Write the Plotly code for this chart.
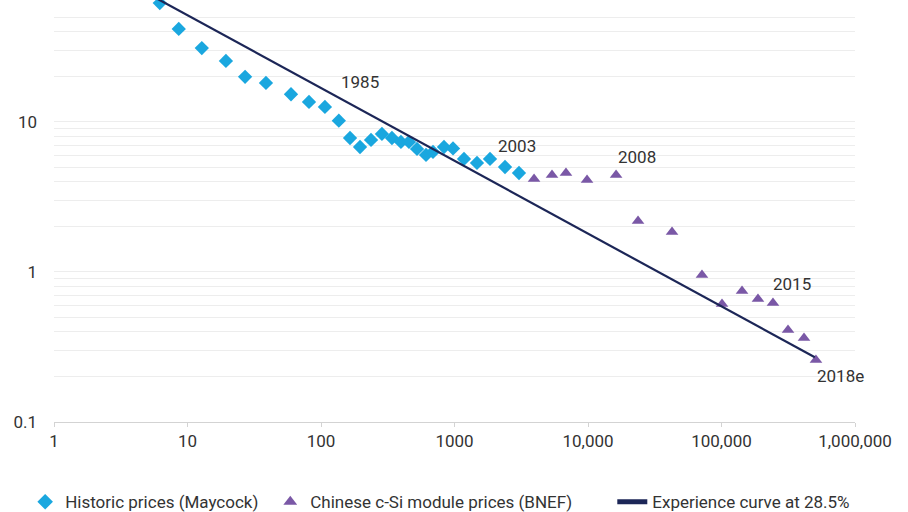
import math
import plotly.graph_objects as go

# Historic prices (Maycock): cumulative capacity (MW) vs module price
hist_x = [6.2, 8.6, 12.8, 19.4, 27.0, 38.7, 59.6, 81.3, 107, 136, 165, 196, 237, 286,
          340, 397, 456, 524, 612, 690, 834, 975, 1178, 1474, 1845, 2390, 3041]
hist_y = [62, 41.7, 31.1, 25.5, 20.0, 18.2, 15.3, 13.6, 12.6, 10.2, 7.82, 6.81, 7.59, 8.32,
          7.82, 7.36, 7.36, 6.61, 6.03, 6.31, 6.81, 6.66, 5.67, 5.33, 5.67, 5.01, 4.57]

# Chinese c-Si module prices (BNEF)
bnef_x = [3944, 5375, 6840, 9836, 16230, 23700, 42600, 71400, 100900, 142500,
          187600, 243000, 315000, 415000, 510000]
bnef_y = [4.17, 4.43, 4.57, 4.11, 4.43, 2.19, 1.85, 0.955, 0.612, 0.747,
          0.661, 0.621, 0.411, 0.363, 0.259]

# Experience curve at 28.5%
exp_x = [5, 500000]
exp_y = [72, 0.27]

x_tickvals = [1, 10, 100, 1000, 10000, 100000, 1000000]
x_ticktext = ["1", "10", "100", "1000", "10,000", "100,000", "1,000,000"]

y_gridvals = [0.1, 0.2, 0.3, 0.4, 0.5, 0.6, 0.7, 0.8, 0.9, 1, 2, 3, 4, 5, 6, 7, 8, 9,
              10, 20, 30, 40, 50]
y_labels = {0.1: "0.1", 1: "1", 10: "10"}

# year labels: (text, x, y) in data units
year_labels = [("1985", 196, 18.5), ("2003", 2938, 6.92), ("2008", 23300, 5.84),
               ("2015", 337000, 0.832), ("2018e", 773000, 0.203)]

BLUE = "#1aa7df"
PURPLE = "#7a58a6"
NAVY = "#1c2657"
TXT = "#333333"

fig = go.Figure()
fig.add_trace(go.Scatter(
    x=hist_x, y=hist_y, mode="markers", name="Historic prices (Maycock)",
    marker=dict(symbol="diamond", size=11, color=BLUE), legend="legend",
))
fig.add_trace(go.Scatter(
    x=bnef_x, y=bnef_y, mode="markers", name="Chinese c-Si module prices (BNEF)",
    marker=dict(symbol="triangle-up", size=11, color=PURPLE), legend="legend2",
))
fig.add_trace(go.Scatter(
    x=exp_x, y=exp_y, mode="lines", name="Experience curve at 28.5%",
    line=dict(color=NAVY, width=2.2), legend="legend3",
))

for txt, xv, yv in year_labels:
    fig.add_annotation(x=math.log10(xv), y=math.log10(yv), text=txt, showarrow=False,
                       font=dict(family="Roboto", size=17, color=TXT))

fig.update_xaxes(
    type="log", range=[0, 6], tickvals=x_tickvals, ticktext=x_ticktext,
    showgrid=False, zeroline=False, showline=True, linecolor="#d3d3d3", linewidth=1,
    ticks="outside", ticklen=4, tickcolor="#d3d3d3", automargin=False,
    tickfont=dict(family="Roboto", size=17, color=TXT),
)
fig.update_yaxes(
    type="log", range=[-1, math.log10(65)], tickvals=y_gridvals,
    ticktext=[y_labels.get(v, "") for v in y_gridvals],
    showgrid=True, gridcolor="#ededed", gridwidth=1, zeroline=False, showline=False,
    ticks="", ticklabelstandoff=16, automargin=False,
    tickfont=dict(family="Roboto", size=17, color=TXT),
)

leg_common = dict(orientation="h", xanchor="left", y=-0.19, yanchor="middle",
                  font=dict(family="Roboto", size=17, color=TXT),
                  itemsizing="constant", bgcolor="rgba(0,0,0,0)")

fig.update_layout(
    width=908, height=512,
    margin=dict(l=54, r=53, t=0, b=90, autoexpand=False),
    paper_bgcolor="white", plot_bgcolor="white",
    showlegend=True,
    legend=dict(x=-0.036, **leg_common),
    legend2=dict(x=0.27, **leg_common),
    legend3=dict(x=0.697, **leg_common),
)

fig.write_html("out.html", config={"displayModeBar": False},
               post_script="document.body.style.margin='0';")
